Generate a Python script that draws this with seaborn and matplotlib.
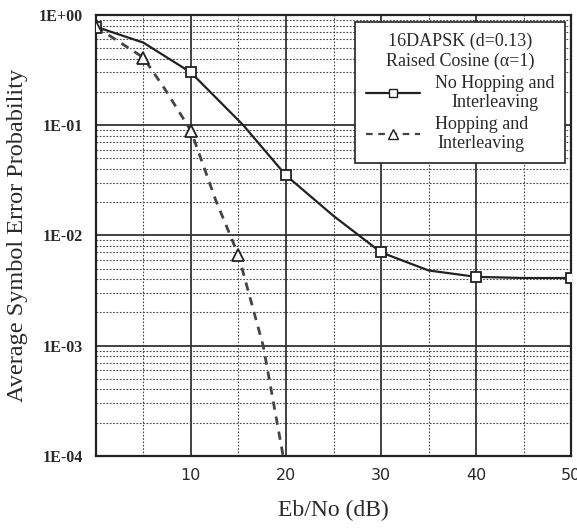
import matplotlib
matplotlib.use("Agg")
import matplotlib.pyplot as plt
from matplotlib.lines import Line2D
from matplotlib.ticker import FixedLocator, LogLocator, NullFormatter
import seaborn as sns
import pandas as pd

# curve points
nohop_x = [0, 5, 10, 15.5, 20, 25, 30, 35, 40, 45, 50]
nohop_y = [0.78, 0.56, 0.30, 0.10, 0.035, 0.015, 0.007, 0.0048, 0.0042, 0.0041, 0.0041]
hop_x = [0, 5, 7.3, 10, 12.6, 15, 17.6, 19.7]
hop_y = [0.78, 0.41, 0.21, 0.089, 0.021, 0.0066, 0.001, 0.0001]

# marker positions
nohop_mx = [0, 10, 20, 30, 40, 50]
nohop_my = [0.78, 0.30, 0.035, 0.007, 0.0042, 0.0041]
hop_mx = [0, 5, 10, 15]
hop_my = [0.78, 0.41, 0.089, 0.0066]

x_ticks = [10, 20, 30, 40, 50]
y_ticks = [1e-4, 1e-3, 1e-2, 1e-1, 1]
y_labels = ["1E-04", "1E-03", "1E-02", "1E-01", "1E+00"]

sns.set_theme(style="white")
plt.rcParams["font.family"] = ["Liberation Serif", "DejaVu Serif"]

fig = plt.figure(figsize=(5.77, 5.30), dpi=100)
ax = fig.add_axes([0.166, 0.14, 0.824, 0.832])

df1 = pd.DataFrame({"x": nohop_x, "y": nohop_y})
df2 = pd.DataFrame({"x": hop_x, "y": hop_y})
sns.lineplot(data=df1, x="x", y="y", sort=False, color="#222222", lw=1.6, ax=ax)
sns.lineplot(data=df2, x="x", y="y", sort=False, color="#444444", lw=2.0,
             linestyle=(0, (3, 2.5)), ax=ax)
ax.plot(nohop_mx, nohop_my, ls="none", marker="s", ms=7, mfc="white",
        mec="#222222", mew=1.3, zorder=5)
ax.plot(hop_mx, hop_my, ls="none", marker="^", ms=8, mfc="white",
        mec="#222222", mew=1.3, zorder=5)

ax.set_yscale("log")
ax.set_xlim(0, 50)
ax.set_ylim(1e-4, 1)
ax.set_yticks(y_ticks)
ax.set_yticklabels(y_labels)
ax.yaxis.set_minor_locator(LogLocator(base=10, subs=range(2, 10)))
ax.yaxis.set_minor_formatter(NullFormatter())
ax.set_xticks(x_ticks)
ax.set_xticklabels([str(v) for v in x_ticks])
ax.xaxis.set_minor_locator(FixedLocator([5, 15, 25, 35, 45]))

ax.grid(which="major", color="#333333", lw=1.3)
ax.grid(which="minor", color="#444444", lw=0.8, ls=(0, (1.5, 1.5)))
ax.tick_params(which="both", length=0)
ax.tick_params(axis="y", labelsize=11.5, pad=9)
ax.tick_params(axis="x", labelsize=11.5, pad=9)
for lab in ax.get_yticklabels():
    lab.set_fontweight("bold")
    lab.set_color("#2a2a2a")
for lab in ax.get_xticklabels():
    lab.set_family(["DejaVu Sans"])
    lab.set_color("#2a2a2a")
for s in ax.spines.values():
    s.set_color("#222222")
    s.set_linewidth(1.6)

ax.set_xlabel("Eb/No (dB)", fontsize=17, labelpad=12, color="#2a2a2a")
ax.set_ylabel("Average Symbol Error Probability", fontsize=17.5, labelpad=8,
              color="#2a2a2a")

handles = [
    Line2D([], [], color="#222222", lw=1.6, marker="s", ms=6, mfc="white",
           mec="#222222"),
    Line2D([], [], color="#444444", lw=1.6, ls=(0, (3, 2.5)), marker="^", ms=7,
           mfc="white", mec="#222222"),
]
leg = ax.legend(handles, ["No Hopping and\nInterleaving", "Hopping and\nInterleaving"],
                title="16DAPSK (d=0.13)\nRaised Cosine (α=1)",
                loc="upper right", bbox_to_anchor=(0.987, 0.984), borderaxespad=0,
                fontsize=13, title_fontsize=13, frameon=True, fancybox=False,
                numpoints=1, handlelength=3.0, borderpad=0.6, labelspacing=0.25,
                framealpha=1)
leg.get_frame().set_edgecolor("#222222")
leg.get_frame().set_linewidth(1.2)
for t in leg.get_texts():
    t.set_multialignment("center")
    t.set_color("#2a2a2a")
leg.get_title().set_multialignment("center")
leg.get_title().set_color("#2a2a2a")

fig.savefig("out.png", dpi=100)
